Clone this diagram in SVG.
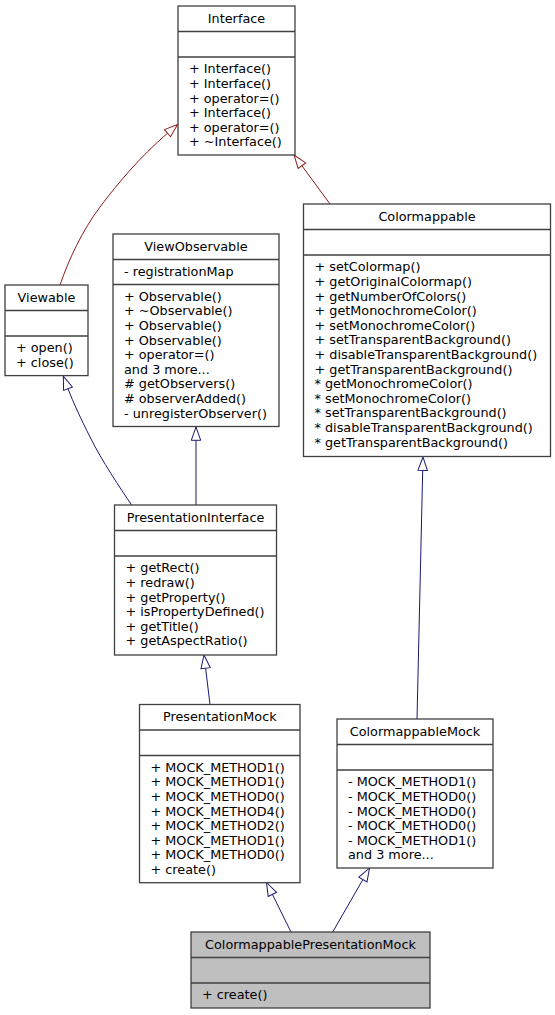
<svg xmlns="http://www.w3.org/2000/svg" width="555" height="1015" viewBox="0 0 555 1015">
<style>
.box{fill:#ffffff;stroke:#404040;stroke-width:1.3}
.hl{fill:#bfbfbf;stroke:#404040;stroke-width:1.3}
.sep{stroke:#404040;stroke-width:1.3}
text{font-family:"DejaVu Sans","Liberation Sans",sans-serif;font-size:12.8px;fill:#000}
.c{text-anchor:middle}
.pub{fill:none;stroke:#191970;stroke-width:1}
.priv{fill:none;stroke:#8b1a1a;stroke-width:1}
</style>
<defs>
<marker id="ab" markerUnits="userSpaceOnUse" orient="auto" refX="0" refY="0" markerWidth="16" markerHeight="12" viewBox="-1 -6 16 12" overflow="visible">
<path d="M0,-4.7 L13.3,0 L0,4.7 Z" fill="#fff" stroke="#191970" stroke-width="1"/>
</marker>
<marker id="ar" markerUnits="userSpaceOnUse" orient="auto" refX="0" refY="0" markerWidth="16" markerHeight="12" viewBox="-1 -6 16 12" overflow="visible">
<path d="M0,-4.7 L13.3,0 L0,4.7 Z" fill="#fff" stroke="#8b1a1a" stroke-width="1"/>
</marker>
</defs>
<rect width="555" height="1015" fill="#fff"/>
<g id="connectors">
<path class="priv" marker-end="url(#ar)" d="M60,285 C69,259 82,231 100,207 C118,183 140,157 167.5,133.2"/>
<path class="priv" marker-end="url(#ar)" d="M330,204 L301.9,165.7"/>
<path class="pub" marker-end="url(#ab)" d="M131.7,505 C120,488 102,461 90,437 C81,419 73,402 68,388.7"/>
<path class="pub" marker-end="url(#ab)" d="M196,505 L196,440.3"/>
<path class="pub" marker-end="url(#ab)" d="M210,704.5 L205.6,668.2"/>
<path class="pub" marker-end="url(#ab)" d="M417,719 L422.7,470.3"/>
<path class="pub" marker-end="url(#ab)" d="M291,932 L272.4,894.4"/>
<path class="pub" marker-end="url(#ab)" d="M332.7,932 L362.9,879.5"/>
</g>
<g id="Interface">
<rect class="box" x="178" y="6" width="117" height="149"/>
<line class="sep" x1="178" y1="31.5" x2="295" y2="31.5"/>
<line class="sep" x1="178" y1="57" x2="295" y2="57"/>
<text class="c" x="236.5" y="22.5">Interface</text>
<text x="189" y="73.3">+ Interface()</text>
<text x="189" y="87.9">+ Interface()</text>
<text x="189" y="102.5">+ operator=()</text>
<text x="189" y="117.1">+ Interface()</text>
<text x="189" y="131.7">+ operator=()</text>
<text x="189" y="146.3">+ ~Interface()</text>
</g>
<g id="Viewable">
<rect class="box" x="5" y="285" width="83" height="90.6"/>
<line class="sep" x1="5" y1="310.5" x2="88" y2="310.5"/>
<line class="sep" x1="5" y1="336" x2="88" y2="336"/>
<text class="c" x="46.5" y="301.5">Viewable</text>
<text x="16" y="352.3">+ open()</text>
<text x="16" y="366.9">+ close()</text>
</g>
<g id="ViewObservable">
<rect class="box" x="113" y="234" width="166" height="192.5"/>
<line class="sep" x1="113" y1="259.5" x2="279" y2="259.5"/>
<line class="sep" x1="113" y1="284.5" x2="279" y2="284.5"/>
<text class="c" x="196" y="250.5">ViewObservable</text>
<text x="124" y="275.8">- registrationMap</text>
<text x="124" y="300.8">+ Observable()</text>
<text x="124" y="315.4">+ ~Observable()</text>
<text x="124" y="330">+ Observable()</text>
<text x="124" y="344.6">+ Observable()</text>
<text x="124" y="359.2">+ operator=()</text>
<text x="124" y="373.8">and 3 more...</text>
<text x="124" y="388.4"># getObservers()</text>
<text x="124" y="403"># observerAdded()</text>
<text x="124" y="417.6">- unregisterObserver()</text>
</g>
<g id="Colormappable">
<rect class="box" x="303.5" y="204" width="247" height="252.5"/>
<line class="sep" x1="303.5" y1="229.5" x2="550.5" y2="229.5"/>
<line class="sep" x1="303.5" y1="255" x2="550.5" y2="255"/>
<text class="c" x="427" y="220.5">Colormappable</text>
<text x="314.5" y="271.3">+ setColormap()</text>
<text x="314.5" y="285.9">+ getOriginalColormap()</text>
<text x="314.5" y="300.5">+ getNumberOfColors()</text>
<text x="314.5" y="315.1">+ getMonochromeColor()</text>
<text x="314.5" y="329.7">+ setMonochromeColor()</text>
<text x="314.5" y="344.3">+ setTransparentBackground()</text>
<text x="314.5" y="358.9">+ disableTransparentBackground()</text>
<text x="314.5" y="373.5">+ getTransparentBackground()</text>
<text x="314.5" y="388.1">* getMonochromeColor()</text>
<text x="314.5" y="402.7">* setMonochromeColor()</text>
<text x="314.5" y="417.3">* setTransparentBackground()</text>
<text x="314.5" y="431.9">* disableTransparentBackground()</text>
<text x="314.5" y="446.5">* getTransparentBackground()</text>
</g>
<g id="PresentationInterface">
<rect class="box" x="114.5" y="505" width="162" height="150"/>
<line class="sep" x1="114.5" y1="530.5" x2="276.5" y2="530.5"/>
<line class="sep" x1="114.5" y1="556" x2="276.5" y2="556"/>
<text class="c" x="195.5" y="521.5">PresentationInterface</text>
<text x="125.5" y="572.3">+ getRect()</text>
<text x="125.5" y="586.9">+ redraw()</text>
<text x="125.5" y="601.5">+ getProperty()</text>
<text x="125.5" y="616.1">+ isPropertyDefined()</text>
<text x="125.5" y="630.7">+ getTitle()</text>
<text x="125.5" y="645.3">+ getAspectRatio()</text>
</g>
<g id="PresentationMock">
<rect class="box" x="139.5" y="704.5" width="160.5" height="178.2"/>
<line class="sep" x1="139.5" y1="730" x2="300" y2="730"/>
<line class="sep" x1="139.5" y1="755.5" x2="300" y2="755.5"/>
<text class="c" x="219.75" y="721">PresentationMock</text>
<text x="150.5" y="771.8">+ MOCK_METHOD1()</text>
<text x="150.5" y="786.4">+ MOCK_METHOD1()</text>
<text x="150.5" y="801">+ MOCK_METHOD0()</text>
<text x="150.5" y="815.6">+ MOCK_METHOD4()</text>
<text x="150.5" y="830.2">+ MOCK_METHOD2()</text>
<text x="150.5" y="844.8">+ MOCK_METHOD1()</text>
<text x="150.5" y="859.4">+ MOCK_METHOD0()</text>
<text x="150.5" y="874">+ create()</text>
</g>
<g id="ColormappableMock">
<rect class="box" x="337" y="719" width="156" height="149"/>
<line class="sep" x1="337" y1="744.5" x2="493" y2="744.5"/>
<line class="sep" x1="337" y1="770" x2="493" y2="770"/>
<text class="c" x="415" y="735.5">ColormappableMock</text>
<text x="348" y="786.3">- MOCK_METHOD1()</text>
<text x="348" y="800.9">- MOCK_METHOD0()</text>
<text x="348" y="815.5">- MOCK_METHOD0()</text>
<text x="348" y="830.1">- MOCK_METHOD0()</text>
<text x="348" y="844.7">- MOCK_METHOD1()</text>
<text x="348" y="859.3">and 3 more...</text>
</g>
<g id="ColormappablePresentationMock">
<rect class="hl" x="191" y="932" width="239" height="76"/>
<line class="sep" x1="191" y1="957.5" x2="430" y2="957.5"/>
<line class="sep" x1="191" y1="983" x2="430" y2="983"/>
<text class="c" x="310.5" y="948.5">ColormappablePresentationMock</text>
<text x="202" y="999.3">+ create()</text>
</g>
</svg>
